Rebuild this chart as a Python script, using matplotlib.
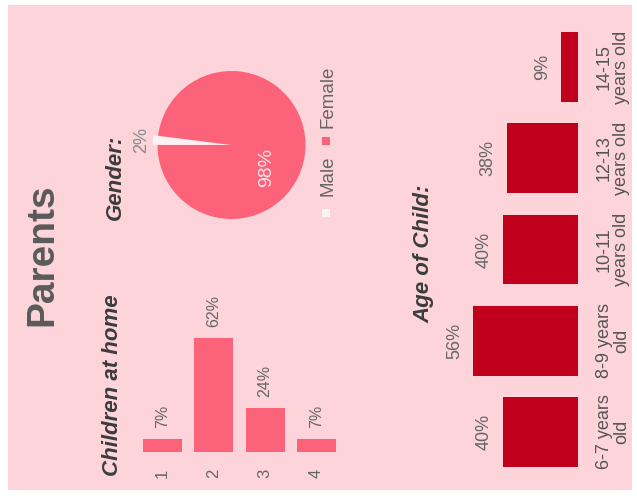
import matplotlib
matplotlib.use("Agg")
import matplotlib.pyplot as plt
from matplotlib.patches import Rectangle

plt.rcParams['font.family'] = ['Liberation Sans', 'DejaVu Sans']

# ---- data ----
children_counts = [1, 2, 3, 4]
children_pct = [7, 62, 24, 7]

gender_labels = ["Male", "Female"]
gender_pct = [2, 98]

age_labels = ["6-7 years\nold", "8-9 years\nold", "10-11\nyears old",
              "12-13\nyears old", "14-15\nyears old"]
age_pct = [40, 56, 40, 38, 9]

# ---- styling ----
BG = "#fcd4da"
PINK = "#fc6279"
DARK_RED = "#c0001d"
MALE_C = "#fdf2f3"
TITLE_C = "#5a5a5a"
HEAD_C = "#3c3c3c"
LABEL_C = "#666666"

W, H = 637, 498
fig = plt.figure(figsize=(W / 100, H / 100), dpi=100, facecolor="white")


def box(x0, y0, x1, y1):
    """Pixel box (top-left origin) -> figure fraction rect."""
    return [x0 / W, 1 - y1 / H, (x1 - x0) / W, (y1 - y0) / H]


def fx(x):
    return x / W


def fy(y):
    return 1 - y / H


# panel
fig.patches.append(Rectangle((fx(8), fy(490)), fx(632) - fx(8), fy(5) - fy(490),
                             transform=fig.transFigure, facecolor=BG,
                             edgecolor="none", zorder=-10))

# headings
fig.text(fx(42), fy(255), "Parents", rotation=90, ha="center", va="center",
         fontsize=28, fontweight="bold", color=TITLE_C)
fig.text(fx(113), fy(385), "Children at home", rotation=90, ha="center",
         va="center", fontsize=16, fontweight="bold", fontstyle="italic",
         color=HEAD_C)
fig.text(fx(115), fy(177), "Gender:", rotation=90, ha="center", va="center",
         fontsize=16, fontweight="bold", fontstyle="italic", color=HEAD_C)
fig.text(fx(424), fy(254), "Age of Child:", rotation=90, ha="center",
         va="center", fontsize=16, fontweight="bold", fontstyle="italic",
         color=HEAD_C)

# ---- children at home ----
ax1 = fig.add_axes(box(136.8, 323.2, 342.2, 452))
ax1.set_facecolor("none")
bars = ax1.bar(children_counts, children_pct, width=0.76, color=PINK)
ax1.set_xlim(0.5, 4.5)
ax1.set_ylim(0, 70)
for b, v in zip(bars, children_pct):
    ax1.annotate(f"{v}%", (b.get_x() + b.get_width() / 2, v),
                 xytext=(0, 11), textcoords="offset pixels", rotation=90,
                 ha="center", va="bottom", fontsize=11.5, color=LABEL_C)
ax1.set_xticks(children_counts)
ax1.set_xticklabels([str(c) for c in children_counts], rotation=90,
                    fontsize=12, color=LABEL_C)
ax1.tick_params(axis="x", length=0, pad=12)
ax1.set_yticks([])
for s in ax1.spines.values():
    s.set_visible(False)

# ---- gender pie ----
cx, cy, r = 231.5, 145, 74
ax2 = fig.add_axes(box(cx - 1.25 * r, cy - 1.25 * r, cx + 1.25 * r, cy + 1.25 * r))
wedges, _ = ax2.pie(gender_pct, colors=[MALE_C, PINK], startangle=172.8,
                    counterclock=True, explode=[0.065, 0],
                    wedgeprops=dict(linewidth=0))
ax2.text(-1.22, 0.07, f"{gender_pct[0]}%", rotation=90, ha="center",
         va="center", fontsize=13, color="#8a8a8a")
ax2.text(0.47, -0.30, f"{gender_pct[1]}%", rotation=90, ha="center",
         va="center", fontsize=14, color="#fde6ea")

# legend (reads bottom to top)
fig.patches.append(Rectangle((fx(322), fy(217)), 8 / W, 8 / H,
                             transform=fig.transFigure, facecolor=MALE_C,
                             edgecolor="none"))
fig.text(fx(327.5), fy(176), gender_labels[0], rotation=90, ha="center",
         va="center", fontsize=13.5, color=LABEL_C)
fig.patches.append(Rectangle((fx(322), fy(145)), 8 / W, 8 / H,
                             transform=fig.transFigure, facecolor=PINK,
                             edgecolor="none"))
fig.text(fx(327.5), fy(97), gender_labels[1], rotation=90, ha="center",
         va="center", fontsize=13.5, color=LABEL_C)

# ---- age of child ----
ax3 = fig.add_axes(box(465.5, 21.4, 578, 477.6))
ax3.set_facecolor("none")
ypos = list(range(len(age_pct)))
hb = ax3.barh(ypos, age_pct, height=0.767, color=DARK_RED)
ax3.set_xlim(60, 0)
ax3.set_ylim(-0.5, 4.5)
for b, v in zip(hb, age_pct):
    ax3.annotate(f"{v}%", (v, b.get_y() + b.get_height() / 2),
                 xytext=(-10, 0), textcoords="offset pixels", rotation=90,
                 ha="right", va="center", fontsize=13, color=LABEL_C)
ax3.yaxis.tick_right()
ax3.set_yticks(ypos)
ax3.set_yticklabels(age_labels, rotation=90, fontsize=13, color="#555555",
                    ha="left", va="center", multialignment="center",
                    linespacing=1.0)
ax3.tick_params(axis="y", length=0, pad=13)
ax3.set_xticks([])
for s in ax3.spines.values():
    s.set_visible(False)

fig.savefig("out.png", dpi=100, facecolor="white")
